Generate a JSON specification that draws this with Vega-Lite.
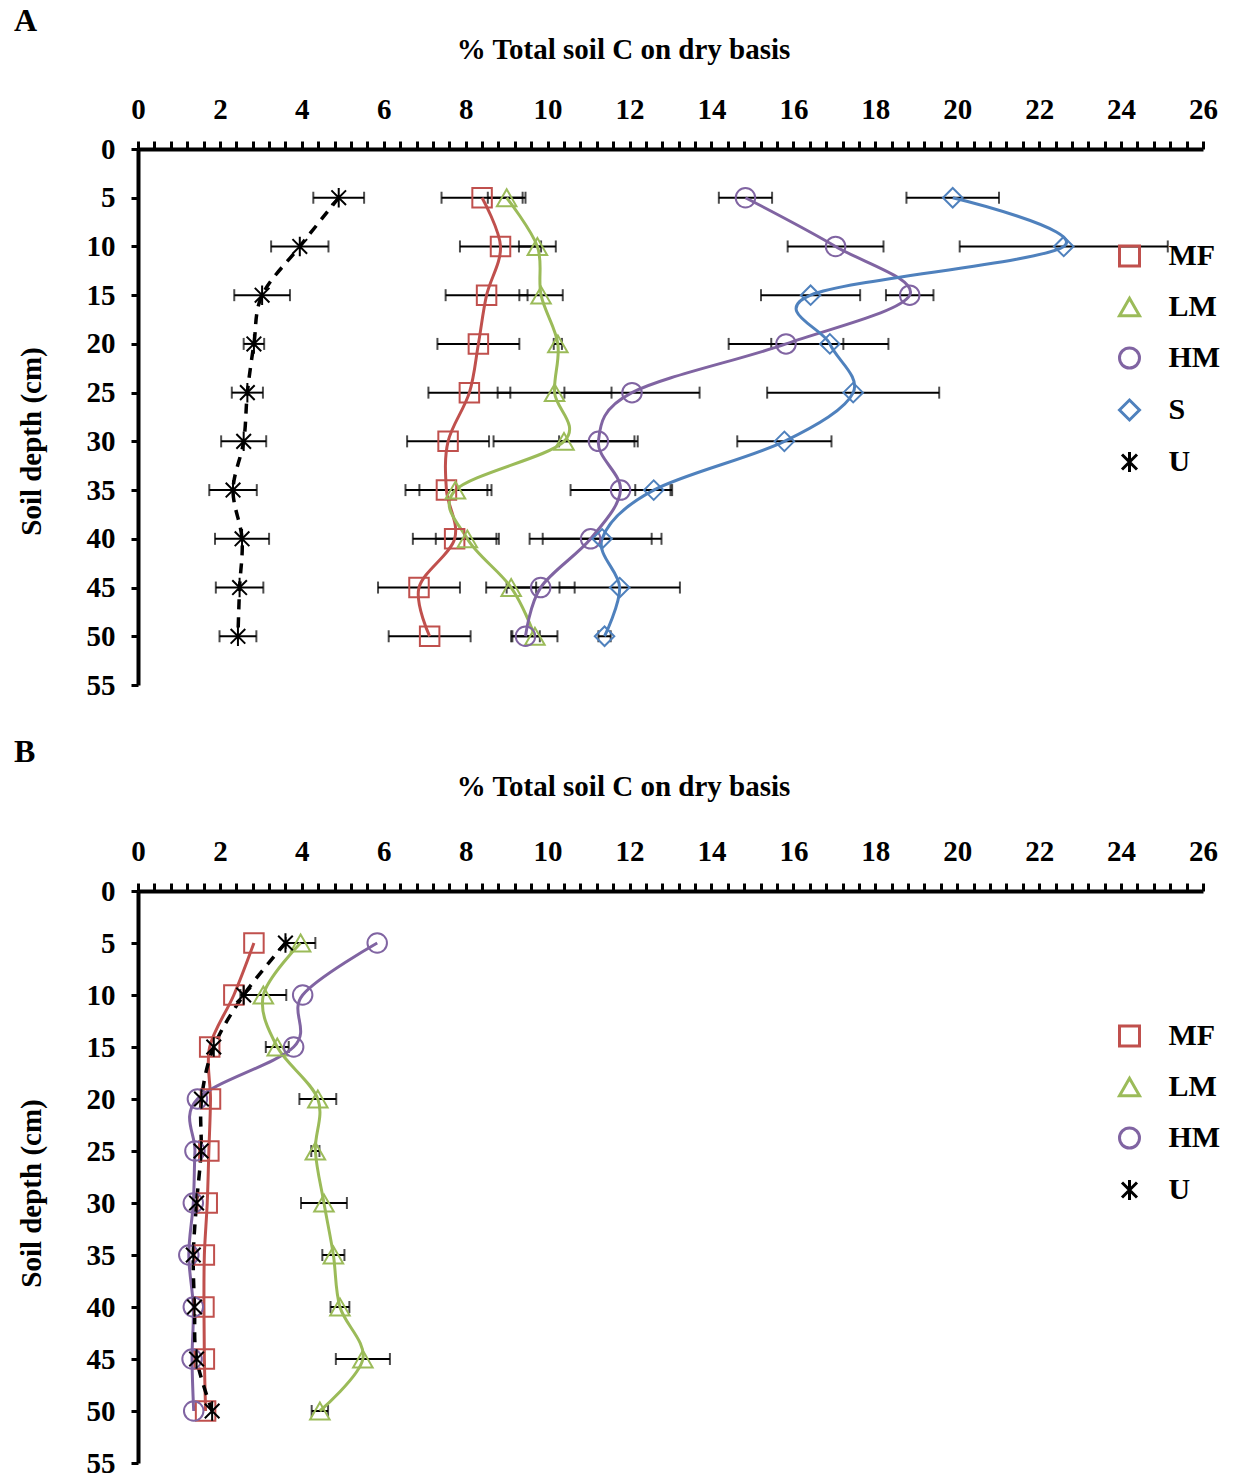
{
  "$schema": "https://vega.github.io/schema/vega-lite/v6.json",
  "padding": {"left": 14, "top": 5, "right": 0, "bottom": 0},
  "background": "white",
  "config": {
    "view": {"stroke": null},
    "font": "Liberation Serif",
    "axis": {"grid": false, "domainColor": "black", "tickColor": "black", "labelColor": "black", "titleColor": "black", "labelFont": "Liberation Serif", "titleFont": "Liberation Serif", "labelFontWeight": "bold", "titleFontWeight": "bold", "labelFontSize": 29, "titleFontSize": 29, "domainWidth": 4, "tickWidth": 3},
    "legend": {"labelFont": "Liberation Serif", "labelFontWeight": "bold", "labelFontSize": 30, "labelColor": "black"},
    "title": {"font": "Liberation Serif", "fontWeight": "bold", "fontSize": 32, "color": "black"}
  },
  "datasets": {
    "A": [
      {"s": "MF", "d": 5, "v": 8.40, "e": 0.99}, {"s": "MF", "d": 10, "v": 8.85, "e": 0.99}, {"s": "MF", "d": 15, "v": 8.51, "e": 1.0}, {"s": "MF", "d": 20, "v": 8.31, "e": 1.0}, {"s": "MF", "d": 25, "v": 8.09, "e": 1.0}, {"s": "MF", "d": 30, "v": 7.57, "e": 1.0}, {"s": "MF", "d": 35, "v": 7.53, "e": 1.0}, {"s": "MF", "d": 40, "v": 7.73, "e": 1.02}, {"s": "MF", "d": 45, "v": 6.86, "e": 1.0}, {"s": "MF", "d": 50, "v": 7.12, "e": 1.0},
      {"s": "LM", "d": 5, "v": 9.00, "e": 0.46}, {"s": "LM", "d": 10, "v": 9.75, "e": 0.45}, {"s": "LM", "d": 15, "v": 9.84, "e": 0.53}, {"s": "LM", "d": 20, "v": 10.25, "e": 0.1}, {"s": "LM", "d": 25, "v": 10.17, "e": 1.39}, {"s": "LM", "d": 30, "v": 10.40, "e": 1.72}, {"s": "LM", "d": 35, "v": 7.75, "e": 0.88}, {"s": "LM", "d": 40, "v": 8.04, "e": 0.77}, {"s": "LM", "d": 45, "v": 9.11, "e": 0.61}, {"s": "LM", "d": 50, "v": 9.69, "e": 0.55},
      {"s": "HM", "d": 5, "v": 14.83, "e": 0.65}, {"s": "HM", "d": 10, "v": 17.03, "e": 1.17}, {"s": "HM", "d": 15, "v": 18.84, "e": 0.58}, {"s": "HM", "d": 20, "v": 15.82, "e": 1.40}, {"s": "HM", "d": 25, "v": 12.06, "e": 1.65}, {"s": "HM", "d": 30, "v": 11.24, "e": 0.96}, {"s": "HM", "d": 35, "v": 11.78, "e": 1.22}, {"s": "HM", "d": 40, "v": 11.05, "e": 1.49}, {"s": "HM", "d": 45, "v": 9.83, "e": 0.83}, {"s": "HM", "d": 50, "v": 9.46, "e": 0.35},
      {"s": "S", "d": 5, "v": 19.89, "e": 1.13}, {"s": "S", "d": 10, "v": 22.60, "e": 2.54}, {"s": "S", "d": 15, "v": 16.42, "e": 1.21}, {"s": "S", "d": 20, "v": 16.89, "e": 1.43}, {"s": "S", "d": 25, "v": 17.46, "e": 2.10}, {"s": "S", "d": 30, "v": 15.78, "e": 1.15}, {"s": "S", "d": 35, "v": 12.59, "e": 0.45}, {"s": "S", "d": 40, "v": 11.33, "e": 1.45}, {"s": "S", "d": 45, "v": 11.76, "e": 1.47}, {"s": "S", "d": 50, "v": 11.39, "e": 0.15},
      {"s": "U", "d": 5, "v": 4.90, "e": 0.62}, {"s": "U", "d": 10, "v": 3.95, "e": 0.70}, {"s": "U", "d": 15, "v": 3.03, "e": 0.68}, {"s": "U", "d": 20, "v": 2.83, "e": 0.25}, {"s": "U", "d": 25, "v": 2.67, "e": 0.38}, {"s": "U", "d": 30, "v": 2.58, "e": 0.55}, {"s": "U", "d": 35, "v": 2.32, "e": 0.58}, {"s": "U", "d": 40, "v": 2.54, "e": 0.66}, {"s": "U", "d": 45, "v": 2.48, "e": 0.58}, {"s": "U", "d": 50, "v": 2.44, "e": 0.45}
    ],
    "B": [
      {"s": "MF", "d": 5, "v": 2.83, "e": 0}, {"s": "MF", "d": 10, "v": 2.34, "e": 0}, {"s": "MF", "d": 15, "v": 1.75, "e": 0}, {"s": "MF", "d": 20, "v": 1.77, "e": 0}, {"s": "MF", "d": 25, "v": 1.73, "e": 0}, {"s": "MF", "d": 30, "v": 1.69, "e": 0}, {"s": "MF", "d": 35, "v": 1.62, "e": 0}, {"s": "MF", "d": 40, "v": 1.61, "e": 0}, {"s": "MF", "d": 45, "v": 1.62, "e": 0}, {"s": "MF", "d": 50, "v": 1.65, "e": 0},
      {"s": "LM", "d": 5, "v": 3.97, "e": 0.36}, {"s": "LM", "d": 10, "v": 3.06, "e": 0.56}, {"s": "LM", "d": 15, "v": 3.40, "e": 0.28}, {"s": "LM", "d": 20, "v": 4.39, "e": 0.45}, {"s": "LM", "d": 25, "v": 4.33, "e": 0.1}, {"s": "LM", "d": 30, "v": 4.54, "e": 0.56}, {"s": "LM", "d": 35, "v": 4.77, "e": 0.27}, {"s": "LM", "d": 40, "v": 4.93, "e": 0.23}, {"s": "LM", "d": 45, "v": 5.49, "e": 0.66}, {"s": "LM", "d": 50, "v": 4.44, "e": 0.2},
      {"s": "HM", "d": 5, "v": 5.84, "e": 0}, {"s": "HM", "d": 10, "v": 4.02, "e": 0}, {"s": "HM", "d": 15, "v": 3.80, "e": 0}, {"s": "HM", "d": 20, "v": 1.45, "e": 0}, {"s": "HM", "d": 25, "v": 1.39, "e": 0}, {"s": "HM", "d": 30, "v": 1.35, "e": 0}, {"s": "HM", "d": 35, "v": 1.24, "e": 0}, {"s": "HM", "d": 40, "v": 1.35, "e": 0}, {"s": "HM", "d": 45, "v": 1.32, "e": 0}, {"s": "HM", "d": 50, "v": 1.36, "e": 0},
      {"s": "U", "d": 5, "v": 3.60, "e": 0}, {"s": "U", "d": 10, "v": 2.58, "e": 0}, {"s": "U", "d": 15, "v": 1.85, "e": 0}, {"s": "U", "d": 20, "v": 1.55, "e": 0}, {"s": "U", "d": 25, "v": 1.54, "e": 0}, {"s": "U", "d": 30, "v": 1.43, "e": 0}, {"s": "U", "d": 35, "v": 1.35, "e": 0}, {"s": "U", "d": 40, "v": 1.38, "e": 0}, {"s": "U", "d": 45, "v": 1.43, "e": 0}, {"s": "U", "d": 50, "v": 1.81, "e": 0}
    ]
  },
  "resolve": {"scale": {"stroke": "independent", "shape": "independent"}, "legend": {"stroke": "independent", "shape": "independent"}},
  "spacing": 36,
  "vconcat": [
    {
      "title": {"text": "A", "anchor": "start", "frame": "bounds", "offset": -3, "dx": -3},
      "width": 1065, "height": 536,
      "data": {"name": "A"},
      "encoding": {
        "y": {"field": "d", "type": "quantitative", "scale": {"domain": [0, 55], "reverse": true, "nice": false, "zero": false},
          "axis": {"orient": "left", "values": [0, 5, 10, 15, 20, 25, 30, 35, 40, 45, 50, 55], "tickSize": 7, "labelPadding": 16, "title": "Soil depth (cm)", "titlePadding": 40, "titleY": 292}},
        "x": {"field": "v", "type": "quantitative", "scale": {"domain": [0, 26], "nice": false, "zero": false},
          "axis": {"orient": "top", "values": [0,0.4,0.8,1.2,1.6,2,2.4,2.8,3.2,3.6,4,4.4,4.8,5.2,5.6,6,6.4,6.8,7.2,7.6,8,8.4,8.8,9.2,9.6,10,10.4,10.8,11.2,11.6,12,12.4,12.8,13.2,13.6,14,14.4,14.8,15.2,15.6,16,16.4,16.8,17.2,17.6,18,18.4,18.8,19.2,19.6,20,20.4,20.8,21.2,21.6,22,22.4,22.8,23.2,23.6,24,24.4,24.8,25.2,25.6,26],
            "labelExpr": "datum.value % 2 === 0 ? '' + datum.value : ''", "labelOverlap": false, "labelFlush": false, "labelBound": false, "tickSize": 8, "labelPadding": 17, "title": "% Total soil C on dry basis", "titlePadding": 31, "titleX": 485, "titleAlign": "center",
            "encode": {"ticks": {"update": {"y": {"signal": "datum.value % 2 === 0 ? -8 : 0"}, "y2": {"value": 7}}}}}}
      },
      "layer": [
        {"transform": [{"filter": "datum.e > 0"}], "mark": {"type": "errorbar", "ticks": {"size": 12, "thickness": 2, "color": "black"}, "rule": {"strokeWidth": 2, "color": "black"}},
          "encoding": {"xError": {"field": "e"}}},
        {"transform": [{"filter": "datum.s !== 'U'"}], "mark": {"type": "line", "interpolate": "cardinal", "strokeWidth": 3},
          "encoding": {"order": {"field": "d", "type": "quantitative"}, "stroke": {"field": "s", "type": "nominal", "scale": {"domain": ["MF", "LM", "HM", "S", "U"], "range": ["#C0504D", "#9BBB59", "#8064A2", "#4F81BD", "#000000"]}}}},
        {"transform": [{"filter": "datum.s === 'U'"}], "mark": {"type": "line", "interpolate": "cardinal", "strokeWidth": 3.5, "strokeDash": [10, 8], "color": "black"},
          "encoding": {"order": {"field": "d", "type": "quantitative"}}},
        {"mark": {"type": "point", "filled": false, "strokeWidth": 2, "size": 380, "opacity": 1},
          "encoding": {
            "stroke": {"field": "s", "type": "nominal", "scale": {"domain": ["MF", "LM", "HM", "S", "U"], "range": ["#C0504D", "#9BBB59", "#8064A2", "#4F81BD", "#000000"]},
              "legend": {"title": null, "orient": "none", "legendX": 976.5, "legendY": 92, "padding": 0, "symbolSize": 400, "symbolStrokeWidth": 3, "labelOffset": 24, "rowPadding": 20,
                "encode": {"symbols": {"fill": {"value": "transparent"}, "strokeWidth": {"value": 3}}}}},
            "shape": {"field": "s", "type": "nominal", "scale": {"domain": ["MF", "LM", "HM", "S", "U"], "range": ["square", "triangle-up", "circle", "diamond", "M0,-1V1M-0.75,-0.75L0.75,0.75M-0.75,0.75L0.75,-0.75"]},
              "legend": {"title": null, "orient": "none", "legendX": 976.5, "legendY": 92, "padding": 0, "symbolSize": 400, "symbolStrokeWidth": 3, "labelOffset": 24, "rowPadding": 20,
                "encode": {"symbols": {"fill": {"value": "transparent"}, "strokeWidth": {"value": 3}}}}}
          }}
      ]
    },
    {
      "title": {"text": "B", "anchor": "start", "frame": "bounds", "offset": 3, "dx": -3},
      "width": 1065, "height": 572,
      "data": {"name": "B"},
      "encoding": {
        "y": {"field": "d", "type": "quantitative", "scale": {"domain": [0, 55], "reverse": true, "nice": false, "zero": false},
          "axis": {"orient": "left", "values": [0, 5, 10, 15, 20, 25, 30, 35, 40, 45, 50, 55], "tickSize": 7, "labelPadding": 16, "title": "Soil depth (cm)", "titlePadding": 40, "titleY": 302}},
        "x": {"field": "v", "type": "quantitative", "scale": {"domain": [0, 26], "nice": false, "zero": false},
          "axis": {"orient": "top", "values": [0,0.4,0.8,1.2,1.6,2,2.4,2.8,3.2,3.6,4,4.4,4.8,5.2,5.6,6,6.4,6.8,7.2,7.6,8,8.4,8.8,9.2,9.6,10,10.4,10.8,11.2,11.6,12,12.4,12.8,13.2,13.6,14,14.4,14.8,15.2,15.6,16,16.4,16.8,17.2,17.6,18,18.4,18.8,19.2,19.6,20,20.4,20.8,21.2,21.6,22,22.4,22.8,23.2,23.6,24,24.4,24.8,25.2,25.6,26],
            "labelExpr": "datum.value % 2 === 0 ? '' + datum.value : ''", "labelOverlap": false, "labelFlush": false, "labelBound": false, "tickSize": 8, "labelPadding": 17, "title": "% Total soil C on dry basis", "titlePadding": 36, "titleX": 485, "titleAlign": "center",
            "encode": {"ticks": {"update": {"y": {"signal": "datum.value % 2 === 0 ? -8 : 0"}, "y2": {"value": 7}}}}}}
      },
      "layer": [
        {"transform": [{"filter": "datum.e > 0"}], "mark": {"type": "errorbar", "ticks": {"size": 12, "thickness": 2, "color": "black"}, "rule": {"strokeWidth": 2, "color": "black"}},
          "encoding": {"xError": {"field": "e"}}},
        {"transform": [{"filter": "datum.s !== 'U'"}], "mark": {"type": "line", "interpolate": "cardinal", "strokeWidth": 3},
          "encoding": {"order": {"field": "d", "type": "quantitative"}, "stroke": {"field": "s", "type": "nominal", "scale": {"domain": ["MF", "LM", "HM", "U"], "range": ["#C0504D", "#9BBB59", "#8064A2", "#000000"]}}}},
        {"transform": [{"filter": "datum.s === 'U'"}], "mark": {"type": "line", "interpolate": "cardinal", "strokeWidth": 3.5, "strokeDash": [10, 8], "color": "black"},
          "encoding": {"order": {"field": "d", "type": "quantitative"}}},
        {"mark": {"type": "point", "filled": false, "strokeWidth": 2, "size": 380, "opacity": 1},
          "encoding": {
            "stroke": {"field": "s", "type": "nominal", "scale": {"domain": ["MF", "LM", "HM", "U"], "range": ["#C0504D", "#9BBB59", "#8064A2", "#000000"]},
              "legend": {"title": null, "orient": "none", "legendX": 976.5, "legendY": 130, "padding": 0, "symbolSize": 400, "symbolStrokeWidth": 3, "labelOffset": 24, "rowPadding": 20,
                "encode": {"symbols": {"fill": {"value": "transparent"}, "strokeWidth": {"value": 3}}}}},
            "shape": {"field": "s", "type": "nominal", "scale": {"domain": ["MF", "LM", "HM", "U"], "range": ["square", "triangle-up", "circle", "M0,-1V1M-0.75,-0.75L0.75,0.75M-0.75,0.75L0.75,-0.75"]},
              "legend": {"title": null, "orient": "none", "legendX": 976.5, "legendY": 130, "padding": 0, "symbolSize": 400, "symbolStrokeWidth": 3, "labelOffset": 24, "rowPadding": 20,
                "encode": {"symbols": {"fill": {"value": "transparent"}, "strokeWidth": {"value": 3}}}}}
          }}
      ]
    }
  ]
}
